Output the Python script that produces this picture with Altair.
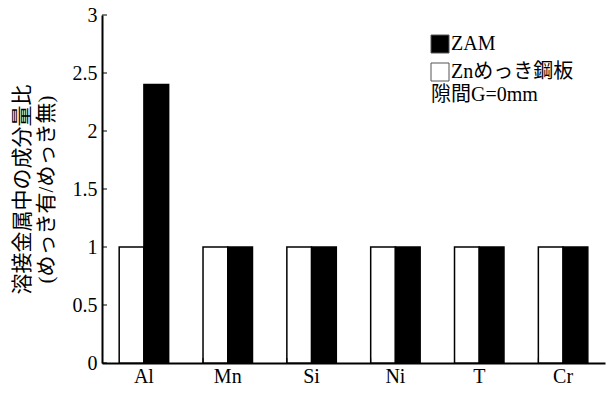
import altair as alt
import pandas as pd

elements = ["Al", "Mn", "Si", "Ni", "T", "Cr"]
zam = [2.4, 1.0, 1.0, 1.0, 1.0, 1.0]
zn = [1.0, 1.0, 1.0, 1.0, 1.0, 1.0]
series_zam = "ZAM"
series_zn = "Znめっき鋼板"
y_ticks = [0, 0.5, 1, 1.5, 2, 2.5, 3]
note = "隙間G=0mm"
y_title = ["溶接金属中の成分量比", "(めっき有/めっき無)"]

FONT = "Liberation Serif, Noto Sans CJK JP"
LAT = "Liberation Serif"

rows = []
for e, v in zip(elements, zn):
    rows.append({"element": e, "series": series_zn, "value": v})
for e, v in zip(elements, zam):
    rows.append({"element": e, "series": series_zam, "value": v})
df = pd.DataFrame(rows)

W, H = 503, 348

xscale = alt.Scale(domain=elements, paddingInner=0.41, paddingOuter=0.205)
yscale = alt.Scale(domain=[0, 3], nice=False)

bars = alt.Chart(df).mark_bar(stroke="black", strokeWidth=1.5).encode(
    x=alt.X("element:N", scale=xscale, sort=elements,
            axis=alt.Axis(title=None, labelAngle=0, ticks=False, domain=True,
                          domainColor="black", domainWidth=2,
                          labelFont=LAT, labelFontSize=20, labelColor="black",
                          labelPadding=3)),
    xOffset=alt.XOffset("series:N", sort=[series_zn, series_zam],
                        scale=alt.Scale(paddingInner=0, paddingOuter=0)),
    y=alt.Y("value:Q", scale=yscale,
            axis=alt.Axis(title=y_title, values=y_ticks, format="~g", ticks=False, grid=False,
                          domain=True, domainColor="black", domainWidth=2,
                          labelFont=LAT, labelFontSize=20, labelColor="black",
                          labelPadding=5, titleFont=FONT, titleFontSize=21,
                          titleFontWeight="normal", titleColor="black",
                          titleLineHeight=24, titleX=-80, titleY=H / 2,
                          titleAngle=270, titleBaseline="middle", titleAlign="center")),
    fill=alt.Fill("series:N",
                  scale=alt.Scale(domain=[series_zam, series_zn], range=["black", "white"]),
                  legend=alt.Legend(title=None, orient="none", legendX=328, legendY=19,
                                    symbolType="square", symbolSize=324,
                                    symbolStrokeColor="#555555", symbolStrokeWidth=1,
                                    labelFont=FONT, labelFontSize=20, labelColor="black",
                                    labelOffset=1, rowPadding=6)),
)

# inward y ticks
ytick_df = pd.DataFrame({"v": y_ticks})
yticks = alt.Chart(ytick_df).mark_rule(color="black", strokeWidth=1).encode(
    y=alt.Y("v:Q", scale=yscale),
    x=alt.value(0),
    x2=alt.value(5),
)

# inward x ticks at category boundaries
xtick_df = pd.DataFrame({"element": elements[1:]})
xticks = alt.Chart(xtick_df).mark_rule(color="black", strokeWidth=1).encode(
    x=alt.X("element:N", scale=xscale, sort=elements, bandPosition=0),
    y=alt.value(H),
    y2=alt.value(H - 5),
)

note_df = pd.DataFrame({"t": [note]})
note_text = alt.Chart(note_df).mark_text(
    font=FONT, fontSize=20, align="left", baseline="middle", color="black"
).encode(
    text="t:N",
    x=alt.value(329),
    y=alt.value(80),
)

chart = alt.layer(bars, yticks, xticks, note_text).properties(
    width=W, height=H,
    autosize=alt.AutoSizeParams(type="none"),
    padding={"left": 102, "top": 15, "right": 2, "bottom": 31},
).configure_view(stroke=None)

chart.save("out.html", embed_options={"renderer": "svg", "actions": False})
